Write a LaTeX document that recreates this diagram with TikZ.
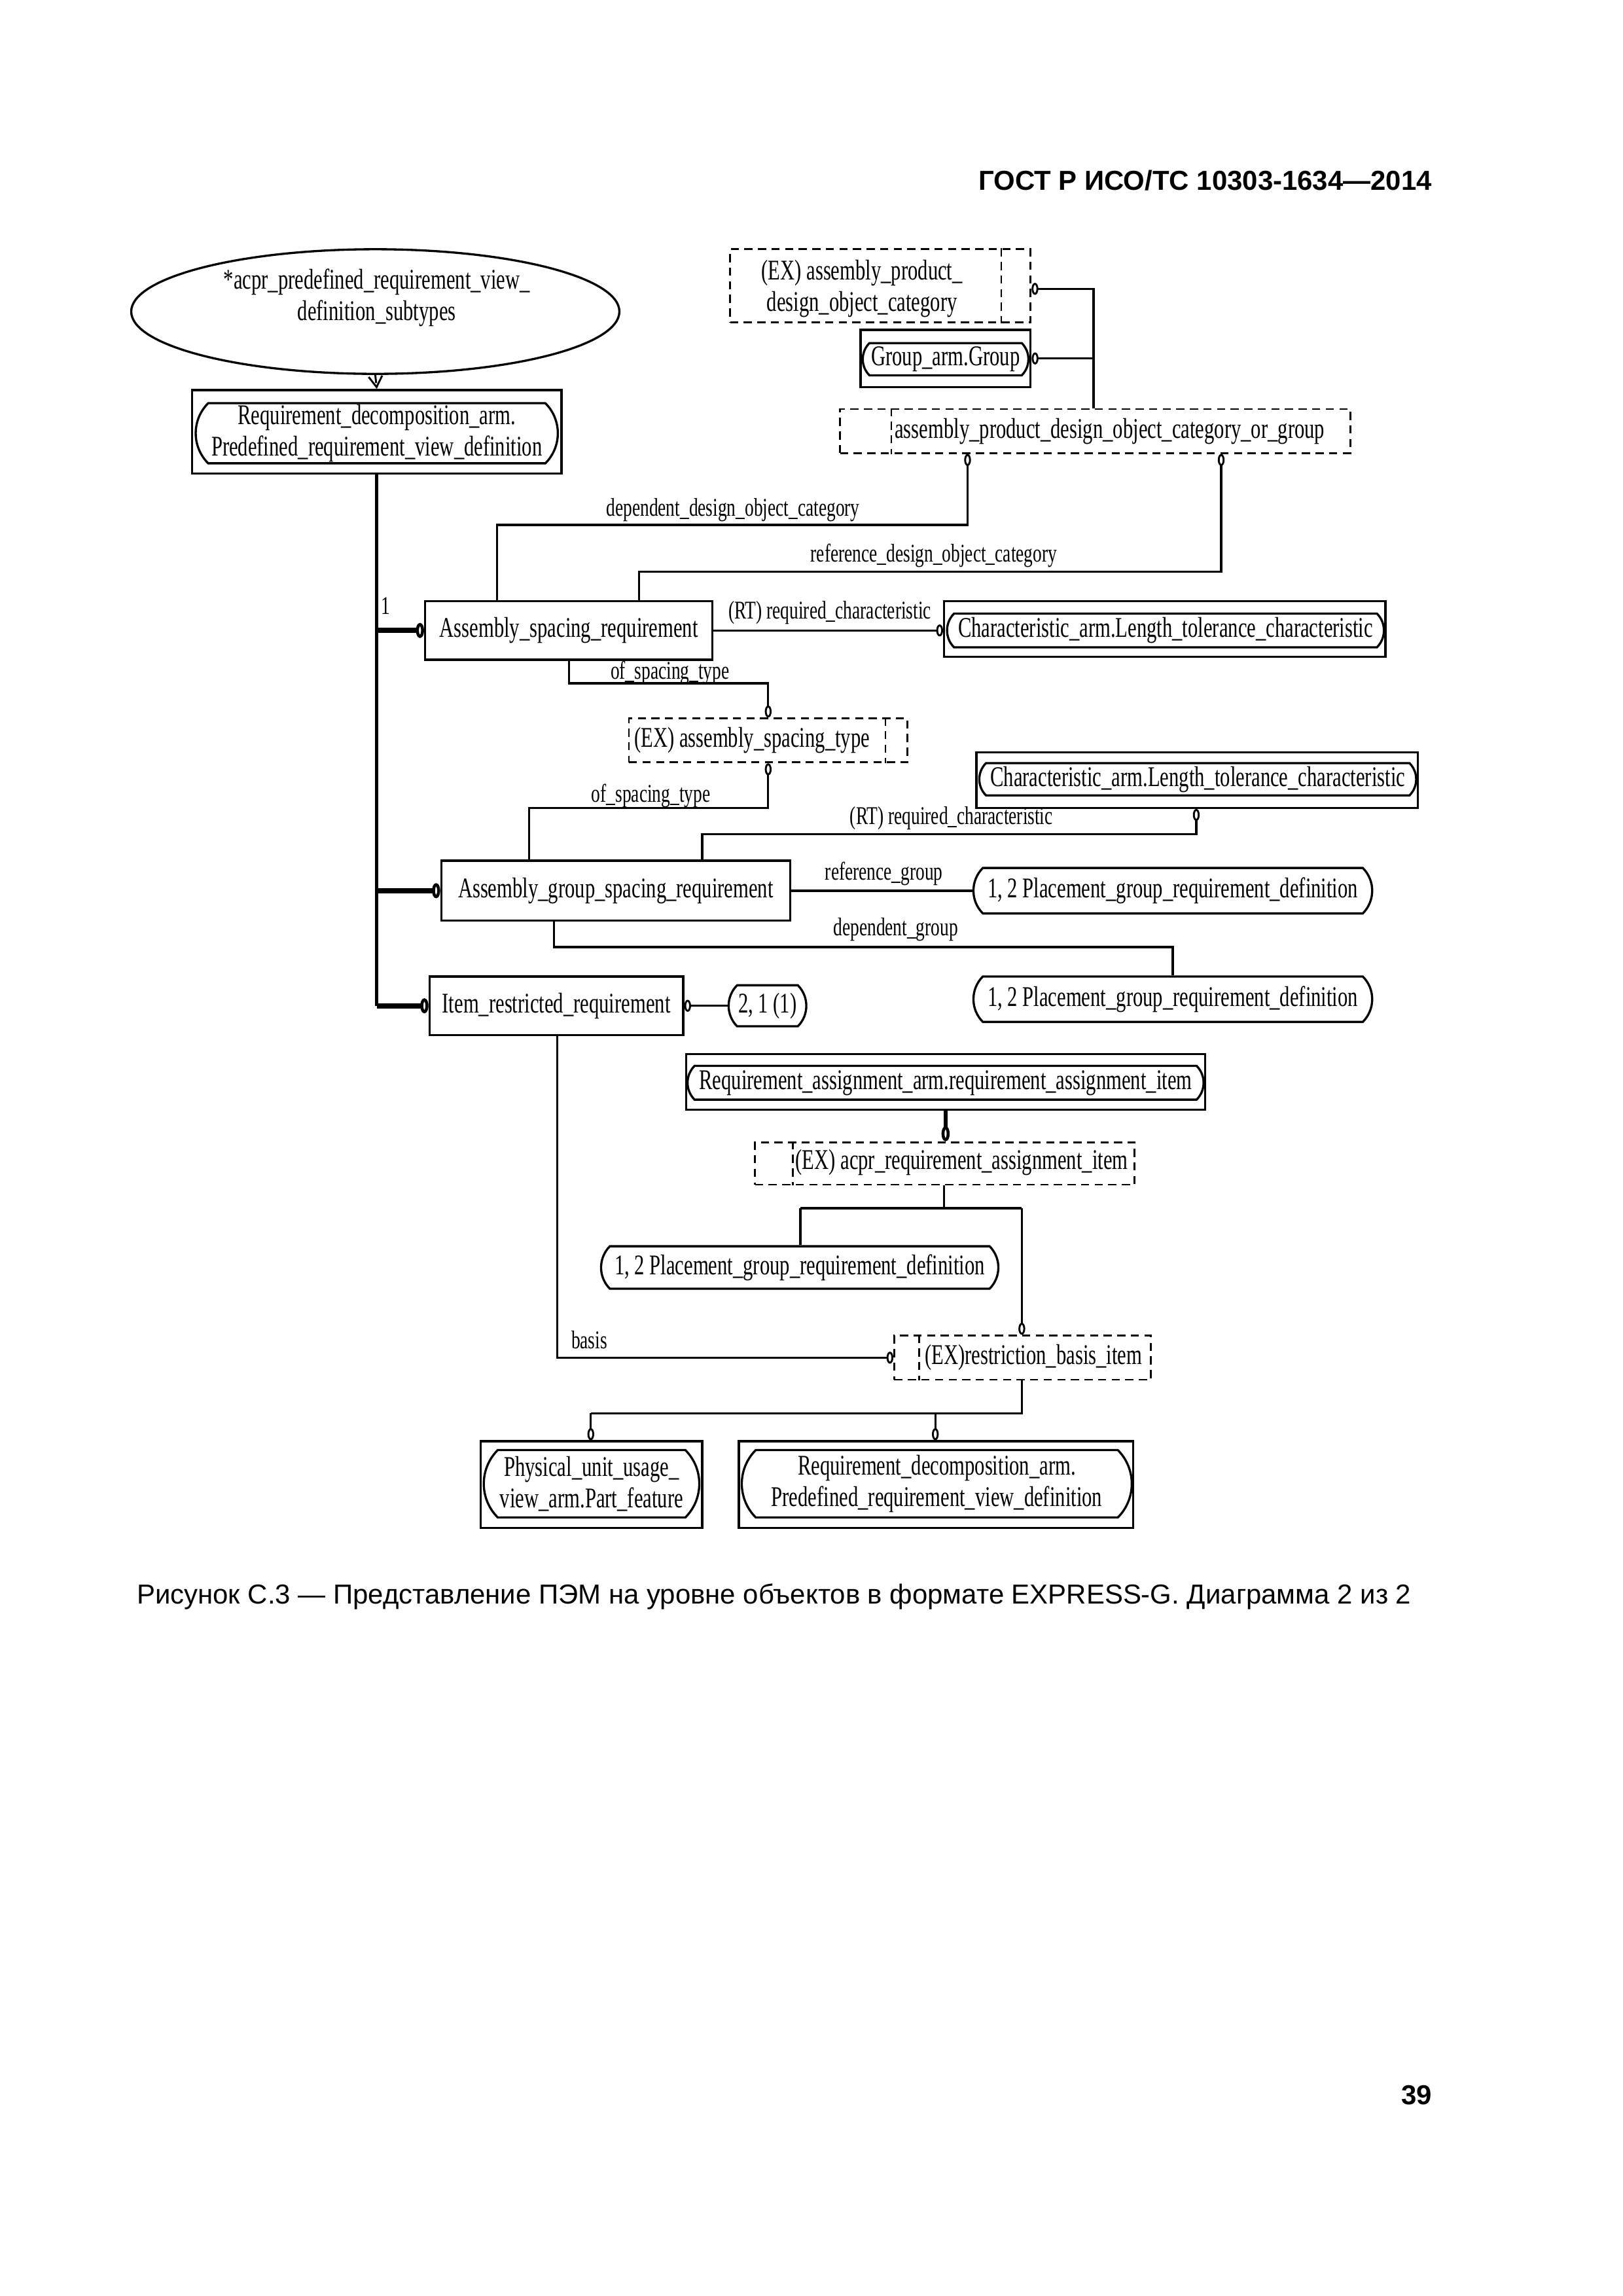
\documentclass[tikz,border=0pt]{standalone}
\usepackage{fontspec}
\setmainfont{Liberation Serif}
\newfontfamily\dfont[FakeStretch=0.703]{Liberation Serif}
\newfontfamily\hfont{Liberation Sans}
\usetikzlibrary{arrows.meta,shapes.geometric,shapes.misc}
\newdimen\ux \ux=0.018970cm
\tikzset{
 dtext/.style={font=\dfont\fontsize{10.5}{11.6}\selectfont},
 ltext/.style={font=\dfont\fontsize{9.4}{10.5}\selectfont, inner sep=0pt},
 ln/.style={line width=0.8pt},
 thk/.style={line width=1.9pt},
 trunkln/.style={line width=1.1pt},
 dsh/.style={line width=0.7pt, dash pattern=on 3pt off 2pt},
 ent/.style={draw, line width=0.8pt, rectangle, inner sep=0pt, dtext, align=center},
 usedbox/.style={draw, line width=0.8pt, rectangle, inner sep=0pt},
 usedin/.style={draw, line width=0.8pt, rounded rectangle, rounded rectangle arc length=90, inner sep=0pt, dtext, align=center},
 sel/.style={draw, dsh, rectangle, inner sep=0pt},
 seltext/.style={dtext, inner sep=0pt, align=center},
 Ov/.tip={Ellipse[open, length=4.4pt, width=2.5pt, line width=0.7pt]},
 Oh/.tip={Ellipse[open, length=2.5pt, width=4.4pt, line width=0.7pt]},
 Ob/.tip={Ellipse[open, length=3pt, width=5.5pt, line width=1.1pt]},
 Obv/.tip={Ellipse[open, length=5.5pt, width=3pt, line width=1.1pt]},
}
\begin{document}
\begin{tikzpicture}[x=0.018970cm, y=-0.018970cm]
\useasboundingbox (0,0) rectangle (1107,1566);

% header, caption, page number
\node[font=\hfont\bfseries\fontsize{10.1}{12}\selectfont, anchor=east, inner sep=0pt] (hdr) at (977,123) {ГОСТ Р ИСО/ТС 10303-1634—2014};
\node[font=\hfont\fontsize{10.1}{12}\selectfont, anchor=west, inner sep=0pt] (cap) at (93,1089) {Рисунок С.3 — Представление ПЭМ на уровне объектов в формате EXPRESS-G. Диаграмма 2 из 2};
\node[font=\hfont\bfseries\fontsize{10.1}{12}\selectfont, anchor=east, inner sep=0pt] (pgno) at (977,1429) {39};

% ---------- nodes ----------
\node[ellipse, draw, ln, minimum width=333\ux, minimum height=85\ux, inner sep=0pt] (ell) at (256,212.5) {};
\node[dtext, align=center, inner sep=0pt] (ellt) at (257,203) {*acpr\_predefined\_requirement\_view\_\\definition\_subtypes};

\node[usedbox, minimum width=252\ux, minimum height=57\ux] (r1) at (257,294.5) {};
\node[usedin, minimum width=247\ux, minimum height=41\ux] (r1in) at (257,295.5) {Requirement\_decomposition\_arm.\\Predefined\_requirement\_view\_definition};

\node[ent, minimum width=196\ux, minimum height=40\ux] (asr) at (388,430) {Assembly\_spacing\_requirement};

\node[sel, minimum width=205\ux, minimum height=50\ux] (selA) at (600.5,195) {};
\node[seltext] (selAt) at (588,197) {(EX) assembly\_product\_\\design\_object\_category};
\coordinate (xA) at (683,195);

\node[usedbox, minimum width=116\ux, minimum height=39\ux] (grp) at (645,244.5) {};
\node[usedin, minimum width=113\ux, minimum height=22\ux] (grpin) at (645,245) {Group\_arm.Group};

\node[sel, minimum width=348\ux, minimum height=30\ux] (selC) at (747,294) {};
\node[seltext] (selCt) at (757,294) {assembly\_product\_design\_object\_category\_or\_group};
\coordinate (xC) at (608,294);

\node[usedbox, minimum width=301\ux, minimum height=38\ux] (ch1) at (794.5,429) {};
\node[usedin, minimum width=298\ux, minimum height=23\ux] (ch1in) at (795,430) {Characteristic\_arm.Length\_tolerance\_characteristic};

\node[sel, minimum width=190\ux, minimum height=30\ux] (selD) at (524,505) {};
\node[seltext] (selDt) at (513,505) {(EX) assembly\_spacing\_type};
\coordinate (xD) at (604,505);

\node[usedbox, minimum width=301\ux, minimum height=38\ux] (ch2) at (816.5,532) {};
\node[usedin, minimum width=298\ux, minimum height=22\ux] (ch2in) at (817,531.5) {Characteristic\_arm.Length\_tolerance\_characteristic};

\node[ent, minimum width=238\ux, minimum height=41\ux] (agsr) at (420,607.5) {Assembly\_group\_spacing\_requirement};

\node[usedin, minimum width=272\ux, minimum height=31\ux] (pg1) at (800,607.5) {1, 2 Placement\_group\_requirement\_definition};
\node[usedin, minimum width=272\ux, minimum height=31\ux] (pg2) at (800,681.5) {1, 2 Placement\_group\_requirement\_definition};

\node[ent, minimum width=173\ux, minimum height=40\ux] (irr) at (379.5,686) {Item\_restricted\_requirement};
\node[usedin, minimum width=53\ux, minimum height=28\ux] (num) at (523.5,686) {2, 1 (1)};

\node[usedbox, minimum width=354\ux, minimum height=38\ux] (ra) at (645,738) {};
\node[usedin, minimum width=352\ux, minimum height=23\ux] (rain) at (645,738.5) {Requirement\_assignment\_arm.requirement\_assignment\_item};

\node[sel, minimum width=259\ux, minimum height=29\ux] (selE) at (644.5,793.5) {};
\node[seltext] (selEt) at (656,793) {(EX) acpr\_requirement\_assignment\_item};
\coordinate (xE) at (541,793);

\node[usedin, minimum width=271\ux, minimum height=29\ux] (pg3) at (545.5,864.5) {1, 2 Placement\_group\_requirement\_definition};

\node[sel, minimum width=175\ux, minimum height=30\ux] (selF) at (697.5,926) {};
\node[seltext] (selFt) at (705,926) {(EX)restriction\_basis\_item};
\coordinate (xF) at (627,926);

\node[usedbox, minimum width=151\ux, minimum height=59\ux] (pu) at (403.5,1012.5) {};
\node[usedin, minimum width=147\ux, minimum height=46\ux] (puin) at (403.5,1012) {Physical\_unit\_usage\_\\view\_arm.Part\_feature};

\node[usedbox, minimum width=269\ux, minimum height=59\ux] (rd2) at (638.5,1012.5) {};
\node[usedin, minimum width=266\ux, minimum height=46\ux] (rd2in) at (639,1012) {Requirement\_decomposition\_arm.\\Predefined\_requirement\_view\_definition};

% inner lines of select boxes
\draw[dsh] (xA |- selA.north) -- (xA |- selA.south);
\draw[dsh] (xC |- selC.north) -- (xC |- selC.south);
\draw[dsh] (xD |- selD.north) -- (xD |- selD.south);
\draw[dsh] (xE |- selE.north) -- (xE |- selE.south);
\draw[dsh] (xF |- selF.north) -- (xF |- selF.south);

% ---------- connectors ----------
\draw[dsh, -{Straight Barb[length=4pt,width=5pt]}] (ell.south) -- (r1.north);

% supertype tree
\draw[trunkln] (r1.south) -- (r1.south |- irr.west);
\draw[thk, -{Ob}] (r1.south |- asr.west) -- (asr.west);
\draw[thk, -{Ob}] (r1.south |- agsr.west) -- (agsr.west);
\draw[thk, -{Ob}] (r1.south |- irr.west) -- (irr.west);
\node[ltext] (one) at (263,413) {1};

% select A / group -> select C
\coordinate (jA) at (746,197);
\draw[ln, {Oh}-] (selA.east |- jA) -- (jA) -- (jA |- selC.north);
\draw[ln, {Oh}-] (grp.east) -- (grp.east -| jA);

% select C -> ASR
\coordinate (d1) at (660,358); \coordinate (d2) at (339,358);
\draw[ln, {Ov}-] (d1 |- selC.south) -- (d1) -- (d2) -- (d2 |- asr.north);
\node[ltext] (lbl1) at (500,348) {dependent\_design\_object\_category};
\coordinate (e1) at (833,390); \coordinate (e2) at (436,390);
\draw[ln, {Ov}-] (e1 |- selC.south) -- (e1) -- (e2) -- (e2 |- asr.north);
\node[ltext] (lbl2) at (637,379) {reference\_design\_object\_category};

% ASR -> CH1
\draw[ln, -{Oh}] (asr.east) -- (asr.east -| ch1.west);
\node[ltext] (lbl3) at (566,418) {(RT) required\_characteristic};

% ASR -> select D
\coordinate (f1) at (388,466); \coordinate (f2) at (524,466);
\draw[ln, -{Ov}] (f1 |- asr.south) -- (f1) -- (f2) -- (f2 |- selD.north);
\node[ltext] (lbl4) at (457,459) {of\_spacing\_type};

% select D -> AGSR
\coordinate (g1) at (524,551); \coordinate (g2) at (361,551);
\draw[ln, {Ov}-] (g1 |- selD.south) -- (g1) -- (g2) -- (g2 |- agsr.north);
\node[ltext] (lbl5) at (444,543) {of\_spacing\_type};

% CH2 -> AGSR
\coordinate (h1) at (816,569); \coordinate (h2) at (479,569);
\draw[ln, {Ov}-] (h1 |- ch2.south) -- (h1) -- (h2) -- (h2 |- agsr.north);
\node[ltext] (lbl6) at (649,558) {(RT) required\_characteristic};

% AGSR -> PG1, PG2
\draw[ln] (agsr.east) -- (agsr.east -| pg1.west);
\node[ltext] (lbl7) at (603,596) {reference\_group};
\coordinate (i1) at (378,646); \coordinate (i2) at (800,646);
\draw[ln] (i1 |- agsr.south) -- (i1) -- (i2) -- (pg2.north);
\node[ltext] (lbl8) at (611,634) {dependent\_group};

% IRR -> num
\draw[ln, {Oh}-] (irr.east) -- (num.west);

% RA -> select E
\draw[line width=1.3pt, -{Obv}] (ra.south) -- (ra.south |- selE.north);

% select E -> PG3, select F
\coordinate (j0) at (644,824); \coordinate (j1) at (546,824); \coordinate (j2) at (697,824);
\draw[ln] (j0 |- selE.south) -- (j0);
\draw[ln] (j1) -- (j2);
\draw[ln] (j1) -- (j1 |- pg3.north);
\draw[ln, -{Ov}] (j2) -- (j2 |- selF.north);

% IRR -> select F (basis)
\coordinate (k0) at (380,926);
\draw[ln, -{Oh}] (k0 |- irr.south) -- (k0) -- (selF.west);
\node[ltext] (lbl9) at (402,914) {basis};

% select F -> PU, RD2
\coordinate (m0) at (697,964); \coordinate (m1) at (403,964); \coordinate (m2) at (638,964);
\draw[ln] (m0 |- selF.south) -- (m0) -- (m1);
\draw[ln, -{Ov}] (m1) -- (m1 |- pu.north);
\draw[ln, -{Ov}] (m2) -- (m2 |- rd2.north);
\end{tikzpicture}
\end{document}
